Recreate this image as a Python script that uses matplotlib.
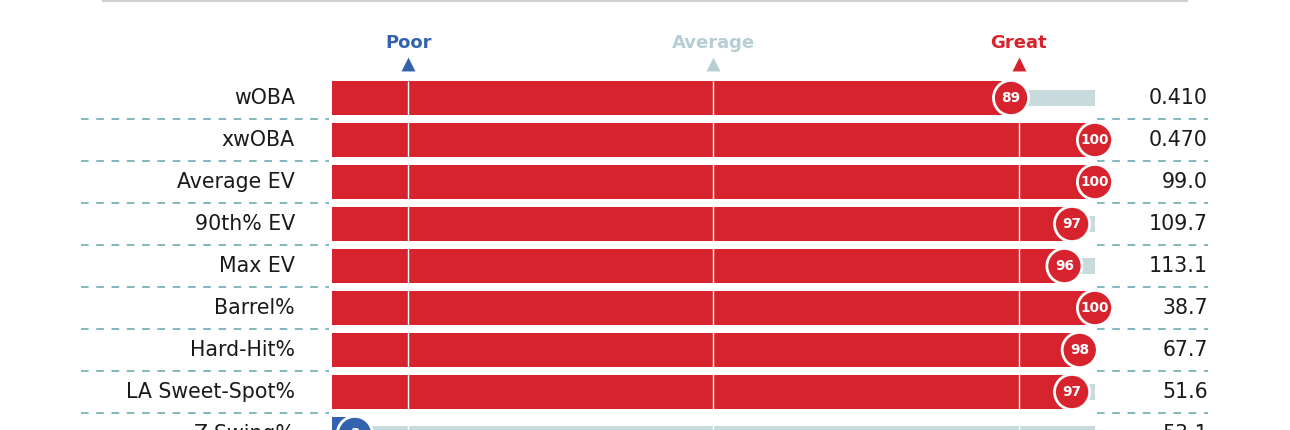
import matplotlib.pyplot as plt

# 데이터
metrics = ['wOBA', 'xwOBA', 'Average EV', '90th% EV', 'Max EV', 'Barrel%',
           'Hard-Hit%', 'LA Sweet-Spot%', 'Z-Swing%']
percentiles = [89, 100, 100, 97, 96, 100, 98, 97, 3]
values = ['0.410', '0.470', '99.0', '109.7', '113.1', '38.7', '67.7', '51.6', '53.1']
marks = [10, 50, 90]
mark_labels = ['Poor', 'Average', 'Great']

red = '#d7232e'
blue = '#3463ad'
grey_bar = '#c9dadd'
mark_colors = [blue, '#b7cdd4', red]
dash_color = '#5fa6aa'

fig = plt.figure(figsize=(12.9, 4.3), dpi=100)
ax = fig.add_axes([0, 0, 1, 1])
ax.set_xlim(-43.51, 125.56)
ax.set_ylim(7.905, -2.333)
ax.axis('off')

rows = range(len(metrics))

# 배경 막대 + 퍼센타일 막대
ax.barh(rows, [100] * len(metrics), height=0.4, color=grey_bar, zorder=1)
bar_colors = [red if p >= 50 else blue for p in percentiles]
ax.barh(rows, percentiles, height=0.8, color=bar_colors, zorder=2)

# 기준선 (10, 50, 90)
ax.vlines(marks, -0.4, len(metrics), color='white', lw=1, zorder=3)

# 원형 퍼센타일 표시
ax.scatter(percentiles, rows, s=640, c=bar_colors, edgecolors='white',
           linewidths=2, zorder=4)
for i, p in enumerate(percentiles):
    ax.text(p, i, str(p), ha='center', va='center', color='white',
            fontsize=9.8, fontweight='bold', zorder=5)

# 라벨과 값
for i, (m, v) in enumerate(zip(metrics, values)):
    ax.text(-4.85, i, m, ha='right', va='center', fontsize=14.8, color='#1a1a1a')
    ax.text(114.8, i, v, ha='right', va='center', fontsize=14.8, color='#1a1a1a')

# 점선 구분선
for i in range(len(metrics) - 1):
    y = i + 0.5
    ax.plot([-32.9, -0.4], [y, y], color=dash_color, lw=1.1, dashes=(5, 5), zorder=1)
    ax.plot([100.3, 114.8], [y, y], color=dash_color, lw=1.1, dashes=(5, 5), zorder=1)

# 상단 헤더
for x, lab, c in zip(marks, mark_labels, mark_colors):
    ax.text(x, -1.31, lab, ha='center', va='center', fontsize=13,
            fontweight='bold', color=c)
    ax.scatter([x], [-0.81], marker='^', s=100, color=c, linewidths=0)

# 상단 회색 선
ax.plot([-30.0, 112.0], [-2.31, -2.31], color='#d0d0d0', lw=1.5)

fig.savefig('out.png', dpi=100)
